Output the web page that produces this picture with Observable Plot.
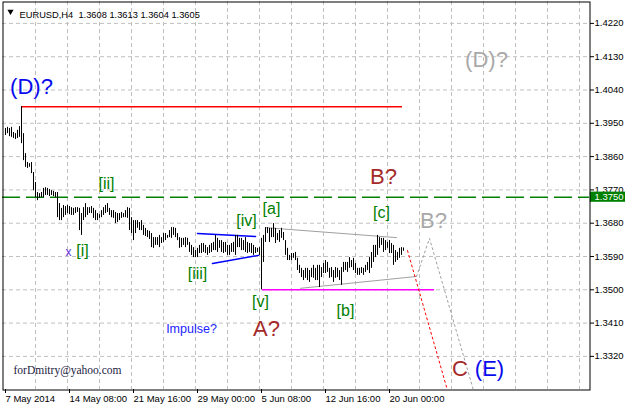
<!DOCTYPE html>
<html><head><meta charset="utf-8">
<script src="https://cdn.jsdelivr.net/npm/d3@7"></script>
<script src="https://cdn.jsdelivr.net/npm/@observablehq/plot@0.6"></script>
<style>body{margin:0;background:#fff}svg{display:block}</style>
</head><body><div id="chart"></div>
<script>
// ---- data ----
const symbol = "EURUSD", timeframe = "H4";
const lastOHLC = [1.3608, 1.3613, 1.3604, 1.3605];
const priceTicks = [1.3320, 1.3410, 1.3500, 1.3590, 1.3680, 1.3770, 1.3860, 1.3950, 1.4040, 1.4130, 1.4220];
const dateTickBars = [0, 32, 64, 96, 128, 160, 192];
const dateTickLabels = ["7 May 2014", "14 May 08:00", "21 May 16:00", "29 May 00:00", "5 Jun 08:00", "12 Jun 16:00", "20 Jun 00:00"];
const gridBars = [16, 32, 48, 64, 80, 96, 112, 128, 144, 160, 176, 192, 208, 224, 240, 256, 272, 288];
const firstBar = 1;
const highs = [1.3936,1.3939,1.3936,1.3939,1.3925,1.3922,1.3931,1.3941,1.3995,1.3922,
1.3868,1.3844,1.3841,1.3844,1.3817,1.3790,1.3763,1.3760,1.3763,1.3774,
1.3776,1.3774,1.3771,1.3768,1.3766,1.3763,1.3763,1.3733,1.3720,1.3728,
1.3725,1.3728,1.3725,1.3722,1.3720,1.3722,1.3722,1.3720,1.3706,1.3722,
1.3733,1.3722,1.3722,1.3725,1.3720,1.3714,1.3706,1.3703,1.3714,1.3722,
1.3728,1.3733,1.3720,1.3714,1.3714,1.3709,1.3706,1.3706,1.3709,1.3706,
1.3714,1.3722,1.3720,1.3695,1.3687,1.3687,1.3687,1.3682,1.3687,1.3674,
1.3666,1.3660,1.3658,1.3652,1.3641,1.3641,1.3641,1.3647,1.3641,1.3652,
1.3652,1.3647,1.3660,1.3668,1.3668,1.3666,1.3652,1.3641,1.3639,1.3639,
1.3641,1.3639,1.3628,1.3620,1.3614,1.3606,1.3612,1.3620,1.3625,1.3625,
1.3620,1.3614,1.3620,1.3625,1.3628,1.3647,1.3639,1.3633,1.3633,1.3628,
1.3628,1.3620,1.3620,1.3625,1.3628,1.3647,1.3647,1.3639,1.3639,1.3633,
1.3641,1.3628,1.3625,1.3625,1.3620,1.3614,1.3612,1.3614,1.3639,1.3647,
1.3668,1.3668,1.3666,1.3666,1.3679,1.3666,1.3652,1.3660,1.3666,1.3655,
1.3633,1.3612,1.3593,1.3598,1.3598,1.3601,1.3585,1.3566,1.3558,1.3552,
1.3558,1.3558,1.3552,1.3558,1.3566,1.3558,1.3566,1.3566,1.3560,1.3571,
1.3579,1.3574,1.3558,1.3560,1.3552,1.3560,1.3558,1.3552,1.3560,1.3574,
1.3574,1.3574,1.3587,1.3579,1.3585,1.3571,1.3558,1.3558,1.3560,1.3558,
1.3566,1.3574,1.3587,1.3601,1.3620,1.3620,1.3647,1.3641,1.3639,1.3639,
1.3633,1.3628,1.3633,1.3625,1.3620,1.3606,1.3601,1.3612,1.3614,1.3613];
const lows = [1.3917,1.3922,1.3914,1.3912,1.3909,1.3906,1.3909,1.3912,1.3895,1.3849,
1.3831,1.3828,1.3831,1.3814,1.3768,1.3749,1.3741,1.3747,1.3749,1.3749,
1.3755,1.3755,1.3752,1.3755,1.3752,1.3749,1.3695,1.3687,1.3687,1.3695,
1.3701,1.3706,1.3703,1.3701,1.3701,1.3706,1.3709,1.3660,1.3647,1.3687,
1.3695,1.3701,1.3706,1.3706,1.3693,1.3687,1.3687,1.3693,1.3695,1.3701,
1.3706,1.3709,1.3701,1.3695,1.3693,1.3679,1.3682,1.3687,1.3693,1.3695,
1.3695,1.3693,1.3660,1.3652,1.3633,1.3652,1.3666,1.3660,1.3660,1.3647,
1.3644,1.3641,1.3636,1.3614,1.3612,1.3620,1.3620,1.3614,1.3625,1.3628,
1.3633,1.3639,1.3641,1.3639,1.3647,1.3641,1.3633,1.3612,1.3614,1.3620,
1.3614,1.3620,1.3601,1.3593,1.3587,1.3587,1.3587,1.3598,1.3598,1.3601,
1.3598,1.3593,1.3598,1.3601,1.3606,1.3606,1.3601,1.3612,1.3601,1.3598,
1.3601,1.3593,1.3593,1.3601,1.3601,1.3593,1.3614,1.3614,1.3606,1.3606,
1.3601,1.3598,1.3601,1.3598,1.3593,1.3598,1.3601,1.3593,1.3500,1.3574,
1.3628,1.3652,1.3628,1.3641,1.3641,1.3625,1.3633,1.3628,1.3639,1.3633,
1.3593,1.3579,1.3579,1.3579,1.3585,1.3579,1.3552,1.3544,1.3533,1.3525,
1.3531,1.3525,1.3520,1.3533,1.3531,1.3525,1.3525,1.3506,1.3533,1.3544,
1.3544,1.3547,1.3531,1.3533,1.3520,1.3531,1.3533,1.3525,1.3512,1.3547,
1.3552,1.3547,1.3558,1.3560,1.3552,1.3544,1.3539,1.3539,1.3544,1.3539,
1.3547,1.3552,1.3544,1.3558,1.3574,1.3587,1.3593,1.3612,1.3620,1.3601,
1.3606,1.3612,1.3598,1.3598,1.3566,1.3574,1.3579,1.3585,1.3593,1.3604];

// drawn objects, in bar index / price units
const redLevel = {from: 9, to: 199.5, price: 1.3995};
const magentaLevel = {from: 129.5, to: 215.5, price: 1.3500};
const markLevel = 1.3750;
const blueUpper = [[97, 1.3652], [126, 1.3644]];
const blueLower = [[104.5, 1.3571], [127.5, 1.3593]];
const grayUpper = [[131, 1.3668], [196.5, 1.3641]];
const grayLower = [[148.5, 1.3504], [206.5, 1.3536]];
const redPath = [[202, 1.3606], [222, 1.3228]];
const grayPath = [[206.5, 1.3536], [213, 1.3639], [235, 1.3228]];

const waveLabels = [
  {text: "(D)?", bar: 14, price: 1.4049, kind: "blue"},
  {text: "(D)?", bar: 241.5, price: 1.4122, kind: "gray"},
  {text: "B?", bar: 190, price: 1.3806, kind: "brown"},
  {text: "B?", bar: 215, price: 1.3687, kind: "gray"},
  {text: "A?", bar: 131.5, price: 1.3393, kind: "brown"},
  {text: "C", bar: 228.25, price: 1.3285, kind: "brown"},
  {text: "(E)", bar: 243, price: 1.3285, kind: "blue"},
  {text: "[i]", bar: 39.5, price: 1.3604, kind: "minor"},
  {text: "[ii]", bar: 51.5, price: 1.3785, kind: "minor"},
  {text: "[iii]", bar: 97, price: 1.3544, kind: "minor"},
  {text: "[iv]", bar: 121.5, price: 1.3687, kind: "minor"},
  {text: "[v]", bar: 128.5, price: 1.3466, kind: "minor"},
  {text: "[a]", bar: 134, price: 1.3720, kind: "minor"},
  {text: "[b]", bar: 171, price: 1.3444, kind: "minor"},
  {text: "[c]", bar: 189, price: 1.3709, kind: "minor"},
  {text: "Impulse?", bar: 94, price: 1.3393, kind: "note"},
  {text: "x", bar: 32.5, price: 1.3601, kind: "cross"}
];
const email = "forDmitry@yahoo.com";

// ---- chart ----
const bars = highs.map((h, k) => ({bar: firstBar + k, high: h, low: lows[k]}));
const kindStyle = {
  blue: {fontSize: 22, fill: "#0a0aee"},
  brown: {fontSize: 22, fill: "#a52a2a"},
  gray: {fontSize: 22, fill: "#a9a9a9"},
  minor: {fontSize: 16, fill: "#008000"},
  note: {fontSize: 12.5, fill: "#2323ff"},
  cross: {fontSize: 12, fill: "#6633dd"}
};
const header = `${symbol},${timeframe}\u00a0\u00a0${lastOHLC.map(v => v.toFixed(4)).join(" ")}`;
const px = d => d[0], py = d => d[1];

const chart = Plot.plot({
  width: 625, height: 405,
  marginLeft: 2, marginRight: 36, marginTop: 1, marginBottom: 16,
  style: {fontFamily: "'Liberation Sans', Arial, sans-serif", fontSize: "9.5px", background: "#fff", color: "#000"},
  x: {domain: [-0.5, 293], axis: null},
  y: {domain: [1.32305, 1.42792], axis: null},
  marks: [
    Plot.gridY(priceTicks, {stroke: "#c0c0c0", strokeOpacity: 1, strokeDasharray: "4,3"}),
    Plot.gridX(gridBars, {stroke: "#c0c0c0", strokeOpacity: 1, strokeDasharray: "4,3"}),
    Plot.ruleY([markLevel], {y: d => d, stroke: "#008000", strokeWidth: 1.5, strokeDasharray: "18,6"}),
    Plot.ruleY([redLevel], {y: "price", x1: "from", x2: "to", stroke: "#ff0000", strokeWidth: 1.5}),
    Plot.ruleY([magentaLevel], {y: "price", x1: "from", x2: "to", stroke: "#ff00ff", strokeWidth: 1.5}),
    Plot.line(blueUpper, {x: px, y: py, stroke: "#0000ff", strokeWidth: 1.5}),
    Plot.line(blueLower, {x: px, y: py, stroke: "#0000ff", strokeWidth: 1.5}),
    Plot.line(grayUpper, {x: px, y: py, stroke: "#a0a0a0", strokeWidth: 1}),
    Plot.line(grayLower, {x: px, y: py, stroke: "#a0a0a0", strokeWidth: 1}),
    Plot.line(redPath, {x: px, y: py, stroke: "#ff0000", strokeWidth: 1, strokeDasharray: "2,3", clip: true}),
    Plot.line(grayPath, {x: px, y: py, stroke: "#a0a0a0", strokeWidth: 1, strokeDasharray: "2,3", clip: true}),
    Plot.ruleX(bars, {x: "bar", y1: "low", y2: "high", stroke: "#000", strokeWidth: 1}),
    ...Object.entries(kindStyle).map(([k, s]) =>
      Plot.text(waveLabels.filter(d => d.kind === k), {x: "bar", y: "price", text: "text", fontFamily: "'Liberation Sans', Arial, sans-serif", ...s})),
    Plot.text([header], {frameAnchor: "top-left", dx: 17, dy: 9.5, textAnchor: "start", fontSize: 9.3, fill: "#000"}),
    Plot.dot([0], {frameAnchor: "top-left", dx: 8, dy: 10, symbol: "triangle", r: 2.3, fill: "#000", stroke: null, rotate: 180}),
    Plot.text([email], {frameAnchor: "bottom-left", dx: 11, dy: -16, textAnchor: "start", fontFamily: "'Liberation Serif', 'Times New Roman', serif", fontSize: 11.5, fill: "#1a1a40"}),
    Plot.axisY(priceTicks, {anchor: "right", tickSize: 4, tickPadding: 1, tickFormat: d => d.toFixed(4), label: null, fontSize: 9.5}),
    Plot.axisX(dateTickBars, {anchor: "bottom", tickSize: 4, tickPadding: 2, tickFormat: d => dateTickLabels[dateTickBars.indexOf(d)], textAnchor: "start", dx: 2, label: null, fontSize: 9.5}),
    Plot.rect([markLevel], {x1: 293.4, x2: 320, y1: d => d - 0.00135, y2: d => d + 0.0014, fill: "#008000"}),
    Plot.text([markLevel], {x: 293, y: d => d, text: d => d.toFixed(4), fill: "#fff", textAnchor: "start", dx: 5, fontSize: 9.5}),
    Plot.frame({stroke: "#000", insetLeft: 0.5, insetTop: 0.5, insetRight: -0.5, insetBottom: -0.5})
  ]
});
document.getElementById("chart").appendChild(chart);
</script>
</body></html>
